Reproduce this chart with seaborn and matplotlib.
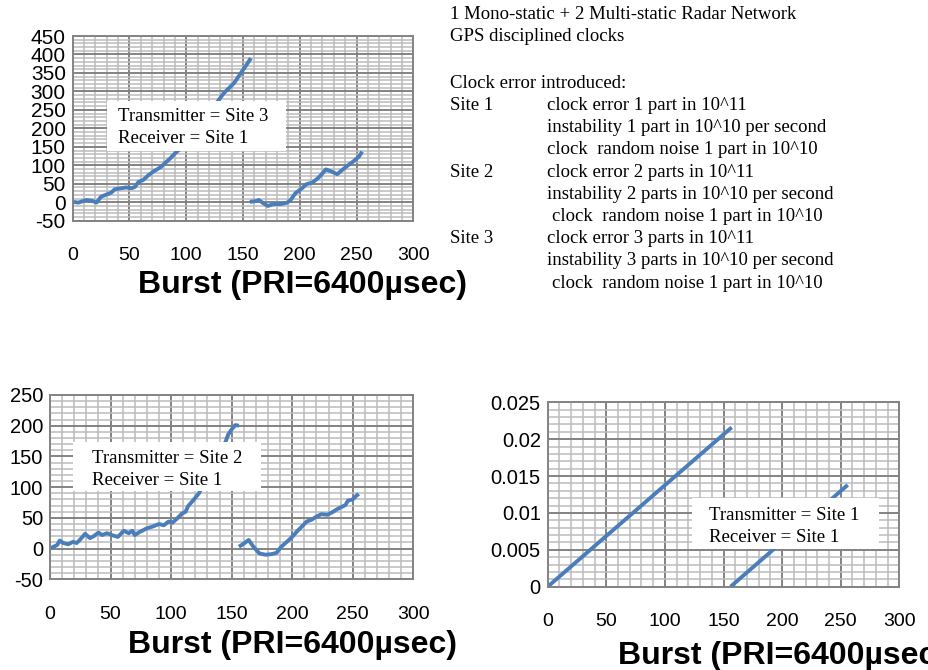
import matplotlib
matplotlib.use("Agg")
import matplotlib.pyplot as plt
from matplotlib.patches import Rectangle
from matplotlib.ticker import MultipleLocator, FuncFormatter
import numpy as np
import pandas as pd
import seaborn as sns

# ---- data: accumulated time error per burst, for each transmitter/receiver pair ----
# Transmitter = Site 3, Receiver = Site 1
s3_burst_a = [0, 5, 12, 17, 21, 25, 30, 34, 37, 43, 47, 52, 55, 58, 62, 67, 71, 77, 81, 86,
              90, 95, 105, 115, 128, 133, 139, 142, 146, 152, 157]
s3_error_a = [1, -1, 6, 4, -1, 15, 21, 26, 35, 38, 40, 38, 42, 55, 60, 74, 83, 94, 105, 119,
              132, 146, 182, 224, 274, 295, 313, 322, 340, 367, 390]
s3_burst_b = [156, 161, 164, 168, 172, 177, 183, 189, 192, 196, 202, 206, 211, 216, 220, 223,
              228, 233, 238, 243, 247, 252, 255]
s3_error_b = [1, 3, 6, -3, -10, -5, -5, -1, 6, 24, 38, 49, 53, 65, 78, 89,
              83, 76, 89, 101, 110, 123, 137]

# Transmitter = Site 2, Receiver = Site 1
s2_burst_a = [0, 3, 6, 8, 11, 15, 19, 22, 25, 29, 33, 36, 40, 43, 47, 51, 56, 61, 65, 68,
              70, 74, 80, 85, 90, 94, 98, 101, 105, 109, 112, 114, 118, 123, 133, 145, 147,
              150, 153, 156]
s2_error_a = [0, 3, 6, 13, 9, 7, 11, 9, 15, 24, 17, 20, 26, 22, 25, 22, 19, 29, 25, 29,
              22, 27, 33, 36, 40, 38, 44, 42, 49, 57, 60, 69, 78, 90, 130, 174, 185,
              194, 201, 200]
s2_burst_b = [156, 160, 164, 168, 173, 178, 183, 187, 191, 195, 200, 204, 208, 212, 216, 220,
              224, 229, 233, 237, 241, 244, 246, 250, 253, 255]
s2_error_b = [3, 8, 14, 3, -8, -10, -9, -7, 3, 10, 19, 28, 36, 44, 47, 52,
              56, 55, 59, 64, 68, 71, 78, 80, 86, 89]

# Transmitter = Site 1, Receiver = Site 1 (mono-static)
s1_burst_a = [0, 157]
s1_error_a = [0.0, 0.0216]
s1_burst_b = [156, 256]
s1_error_b = [0.0, 0.0138]

x_ticks = [0, 50, 100, 150, 200, 250, 300]
xlabel_text = "Burst (PRI=6400\u00b5sec)"

notes_header = ["1 Mono-static + 2 Multi-static Radar Network", "GPS disciplined clocks"]
notes_title = "Clock error introduced:"
site_names = ["Site 1", "Site 2", "Site 3"]
site_lines = [
    ["clock error 1 part in 10^11", "instability 1 part in 10^10 per second",
     "clock  random noise 1 part in 10^10"],
    ["clock error 2 parts in 10^11", "instability 2 parts in 10^10 per second",
     "clock  random noise 1 part in 10^10"],
    ["clock error 3 parts in 10^11", "instability 3 parts in 10^10 per second",
     "clock  random noise 1 part in 10^10"],
]

# ---- style ----
sns.set_style("white")
plt.rcParams["font.family"] = ["Liberation Sans", "DejaVu Sans"]
plt.rcParams["axes.unicode_minus"] = False
plt.rcParams["text.color"] = "black"
plt.rcParams["xtick.labelcolor"] = "black"
plt.rcParams["ytick.labelcolor"] = "black"
SERIF = ["Liberation Serif", "DejaVu Serif"]
SANS = ["Liberation Sans", "DejaVu Sans"]
LINE = "#4a7ebb"
MAJOR = "#838383"
MINOR = "#bcbcbc"

W, H = 929, 670
fig = plt.figure(figsize=(W / 100, H / 100), dpi=100)
fig.patch.set_facecolor("white")


def px_rect(x0, y0, x1, y1):
    """Figure-fraction rectangle from pixel corners (top-left origin)."""
    return [x0 / W, 1 - y1 / H, (x1 - x0) / W, (y1 - y0) / H]


def frame(rect, ylim, ymajor, yminor, yfmt=None, ysize=14):
    ax = fig.add_axes(rect)
    ax.set_xlim(0, 300)
    ax.set_ylim(*ylim)
    ax.set_xticks(x_ticks)
    ax.xaxis.set_minor_locator(MultipleLocator(10))
    ax.yaxis.set_major_locator(MultipleLocator(ymajor))
    ax.yaxis.set_minor_locator(MultipleLocator(yminor))
    ax.grid(which="minor", color=MINOR, lw=1.1)
    ax.grid(which="major", color=MAJOR, lw=1.4)
    ax.set_axisbelow(True)
    for s in ax.spines.values():
        s.set_color(MAJOR)
        s.set_linewidth(1.4)
    ax.tick_params(which="major", direction="out", length=4, width=1.2, color=MAJOR,
                   labelcolor="black")
    ax.tick_params(which="minor", length=0)
    ax.tick_params(axis="x", labelsize=14, pad=15)
    ax.tick_params(axis="y", labelsize=ysize, pad=1)
    if yfmt is not None:
        ax.yaxis.set_major_formatter(yfmt)
    ax.set_xlabel("")
    ax.set_ylabel("")
    return ax


def curve(ax, xa, ya, xb, yb):
    df = pd.DataFrame({
        "burst": list(xa) + list(xb),
        "error": list(ya) + list(yb),
        "segment": ["a"] * len(xa) + ["b"] * len(xb),
    })
    sns.lineplot(data=df, x="burst", y="error", units="segment", estimator=None,
                 sort=False, color=LINE, lw=2.8, legend=False, ax=ax,
                 solid_capstyle="butt")
    ax.set_xlabel("")
    ax.set_ylabel("")


def label_box(x0, y0, x1, y1, tx, base1, base2, lines):
    fig.add_artist(Rectangle((x0 / W, 1 - y1 / H), (x1 - x0) / W, (y1 - y0) / H,
                             transform=fig.transFigure, facecolor="white",
                             edgecolor="none", zorder=5))
    for text, b in zip(lines, (base1, base2)):
        fig.text(tx / W, 1 - b / H, text, family=SERIF, fontsize=13.5,
                 va="baseline", ha="left", zorder=6, color="black")


def burst_label(x, y):
    fig.text(x / W, 1 - y / H, xlabel_text, family=SANS, fontsize=23,
             fontweight="bold", va="center", ha="left", color="black")


# top-left panel
ax1 = frame(px_rect(72.7, 36, 413.3, 220.7), (-50, 450), 50, 10, ysize=15)
curve(ax1, s3_burst_a, s3_error_a, s3_burst_b, s3_error_b)
label_box(107, 101, 286, 150.7, 118, 120.7, 143.3,
          ["Transmitter = Site 3", "Receiver = Site 1"])
burst_label(138, 285)

# bottom-left panel
ax2 = frame(px_rect(50, 395, 413.3, 579.3), (-50, 250), 50, 10, ysize=14.5)
curve(ax2, s2_burst_a, s2_error_a, s2_burst_b, s2_error_b)
label_box(73, 441.7, 261, 491, 91.7, 463.3, 485,
          ["Transmitter = Site 2", "Receiver = Site 1"])
burst_label(128, 645)

# bottom-right panel
fmt = FuncFormatter(lambda v, p: "0" if abs(v) < 1e-12 else f"{v:g}")
ax3 = frame(px_rect(547.7, 402.3, 899.3, 586.7), (0, 0.025), 0.005, 0.001, yfmt=fmt,
            ysize=14.5)
curve(ax3, s1_burst_a, s1_error_a, s1_burst_b, s1_error_b)
label_box(691.7, 498.3, 879, 549.3, 709, 520, 541.7,
          ["Transmitter = Site 1", "Receiver = Site 1"])
burst_label(618, 656)

# description of the simulated network (top right)
def note(x, b, text):
    fig.text(x / W, 1 - b / H, text, family=SERIF, fontsize=13.5, va="baseline",
             color="black")


note(450, 19.3, notes_header[0])
note(450, 40.7, notes_header[1])
note(450, 88.3, notes_title)
base = 110.0
step = 22.2
for i, (name, rows) in enumerate(zip(site_names, site_lines)):
    for j, row in enumerate(rows):
        b = base + (3 * i + j) * step
        if j == 0:
            note(450, b, name)
        indent = 552 if (j == 2 and i > 0) else 547
        note(indent, b, row)

fig.savefig("out.png", dpi=100, facecolor="white")
